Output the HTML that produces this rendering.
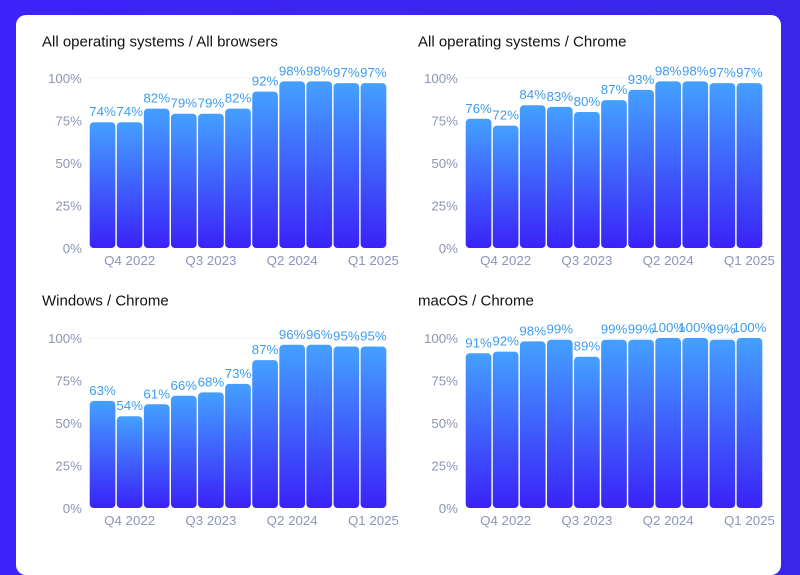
<!DOCTYPE html>
<html><head><meta charset="utf-8">
<style>
html,body{margin:0;padding:0;width:800px;height:545px;overflow:hidden;background:linear-gradient(90deg,#3d22fb,#3a26e8);font-family:"Liberation Sans",Arial,sans-serif}
#card{position:absolute;left:16px;top:15px;width:765px;height:560px;background:#fff;border-radius:10px}
svg{position:absolute;left:0;top:0}
</style></head>
<body>
<div id="card"></div>
<svg id="svg" width="800" height="545">
<defs><linearGradient id="g" x1="0" y1="0" x2="0" y2="1"><stop offset="0" stop-color="#44a0ff"/><stop offset="1" stop-color="#3a22f8"/></linearGradient></defs>
</svg>
<script>
const titles=["All operating systems / All browsers","All operating systems / Chrome","Windows / Chrome","macOS / Chrome"];
const allAll=[74,74,82,79,79,82,92,98,98,97,97];
const allChrome=[76,72,84,83,80,87,93,98,98,97,97];
const winChrome=[63,54,61,66,68,73,87,96,96,95,95];
const macChrome=[91,92,98,99,89,99,99,100,100,99,100];
const yTicks=[0,25,50,75,100];
const xLabels=["Q4 2022","Q3 2023","Q2 2024","Q1 2025"];
const xLabelIdx=[1,4,7,10];
const series=[allAll,allChrome,winChrome,macChrome];
const panels=[{x:89,y0:248,t:41},{x:465,y0:248,t:41},{x:89,y0:508,t:300},{x:465,y0:508,t:300}];
const svg=document.getElementById('svg');const NS="http://www.w3.org/2000/svg";
function mk(tag,attrs,txt){const e=document.createElementNS(NS,tag);for(const k in attrs)e.setAttribute(k,attrs[k]);if(txt!=null)e.textContent=txt;svg.appendChild(e);return e;}
const PW=298,PH=170;
series.forEach((data,p)=>{
 const P=panels[p];const n=data.length;const step=PW/n;
 const y=v=>P.y0-v/100*PH;const x=i=>P.x+i*step;
 let e=mk('text',{x:P.x-47,y:P.t+5.5,'font-size':15,fill:'#111'},titles[p]);
 
 
 e=mk('line',{x1:P.x,x2:P.x+PW,y1:y(100),y2:y(100),stroke:'#eef0f4','stroke-width':1});
 
 
 yTicks.forEach(t=>{e=mk('text',{x:P.x-7,y:y(t)+5,'font-size':13.3,fill:'#8d95b8','text-anchor':'end'},t+'%');
  
  });
 data.forEach((v,i)=>{
  e=mk('rect',{x:x(i)+0.7,y:y(v),width:step-1.4,height:P.y0-y(v),rx:4,fill:'url(#g)'});
  
  
  e=mk('text',{x:x(i)+step/2,y:y(v)-6,'font-size':13.3,fill:'#3d9cf2','text-anchor':'middle'},v+'%');
  
  
 });
 xLabels.forEach((l,k)=>{e=mk('text',{x:x(xLabelIdx[k])+step/2,y:P.y0+17,'font-size':13.3,fill:'#8d95b8','text-anchor':'middle'},l);
  
  });
});
</script>
</body></html>
